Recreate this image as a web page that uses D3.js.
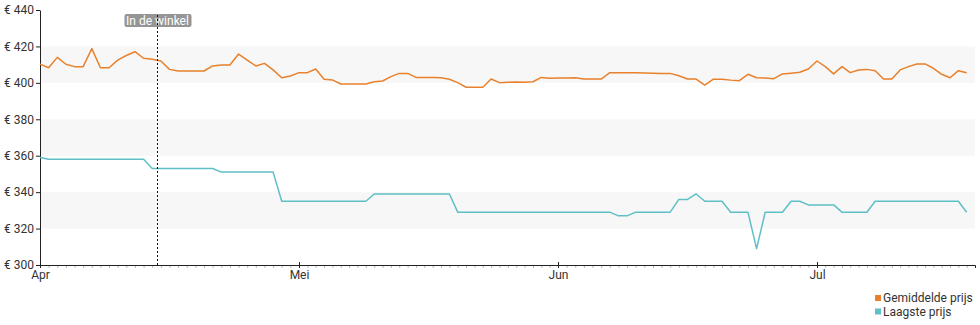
<!DOCTYPE html>
<html>
  <head>
    <meta charset="utf-8">
    <title>Prijsverloop</title>
    <style type="text/css">
        body { margin: 0; background: #fff; }
        svg { display: block; font-family: Roboto, sans-serif; }
        .axis text { font-size: 12px; fill: #333; font-family: Roboto, sans-serif; }
        .axis path, .axis line { stroke: #222; }
        .minor line { stroke: #bbb; }
        .minor path { stroke: none; }
        .legend text { font-size: 12px; fill: #333; }
    </style>
  </head>
  <body>
    <svg width="980" height="325"></svg>

    <script src="https://d3js.org/d3.v7.min.js"></script>
    <script>

    // Average price, one value per day from 1 Apr to 19 Jul
    var avgValues = [
        410.3, 408.3, 414, 410.2, 408.9, 408.9, 418.8, 408.3, 408.3, 412.5,
        415, 417.1, 413.5, 413, 412, 407.4, 406.5, 406.5, 406.5, 406.5,
        409.3, 409.8, 409.8, 415.8, 412.5, 409.3, 410.7, 407.1, 402.8, 403.8,
        // Mei
        405.6, 405.6, 407.6, 402, 401.6, 399.4, 399.4, 399.4, 399.4, 400.6,
        401, 403.4, 405.2, 405.2, 403, 403, 403, 402.8, 402, 400.1,
        397.6, 397.6, 397.6, 402.1, 400.1, 400.3, 400.5, 400.3, 400.6, 403, 402.5,
        // Jun
        402.6, 402.7, 402.8, 402.1, 402.1, 402.1, 405.6, 405.6, 405.5, 405.5,
        405.4, 405.3, 405.2, 405.2, 403.9, 402.1, 402.1, 398.8, 402, 402,
        401.5, 401.2, 404.7, 402.8, 402.6, 402.3, 404.9, 405.3, 405.8, 407.6,
        // Jul
        412, 408.9, 404.9, 408.9, 405.6, 407.1, 407.4, 406.7, 402.1, 402.1,
        407.1, 408.9, 410.4, 410.4, 408, 404.7, 402.8, 406.7, 405.6
    ];
    var avgDates = d3.timeDay.range(new Date(2024, 3, 1), new Date(2024, 6, 20));

    // Lowest price, only where it changes
    var lowDates = [
        "2024-04-01", "2024-04-02", "2024-04-13", "2024-04-14", "2024-04-21", "2024-04-22",
        "2024-04-28", "2024-04-29", "2024-05-09", "2024-05-10", "2024-05-19", "2024-05-20",
        "2024-06-07", "2024-06-08", "2024-06-09", "2024-06-10", "2024-06-14", "2024-06-15",
        "2024-06-16", "2024-06-17", "2024-06-18", "2024-06-20", "2024-06-21", "2024-06-23",
        "2024-06-24", "2024-06-25", "2024-06-27", "2024-06-28", "2024-06-29", "2024-06-30",
        "2024-07-03", "2024-07-04", "2024-07-07", "2024-07-08", "2024-07-18", "2024-07-19"
    ];
    var lowValues = [
        359, 358, 358, 353, 353, 351,
        351, 335, 335, 339, 339, 329,
        329, 327, 327, 329, 329, 336,
        336, 339, 335, 335, 329, 329,
        309, 329, 329, 335, 335, 333,
        333, 329, 329, 335, 335, 329
    ];

    var yTicks = [300, 320, 340, 360, 380, 400, 420, 440];
    var bands = [[400, 420], [360, 380], [320, 340]];
    var monthLabels = { 3: "Apr", 4: "Mei", 5: "Jun", 6: "Jul" };
    var storeDate = new Date(2024, 3, 14, 12);
    var storeLabel = "In de winkel";
    var seriesNames = ["Gemiddelde prijs", "Laagste prijs"];
    var seriesColors = ["#e8802c", "#5fbfc6"];

    var parse = d3.timeParse("%Y-%m-%d");

    var svg = d3.select("svg");

    var x = d3.scaleTime()
        .domain([new Date(2024, 3, 1), new Date(2024, 4, 1), new Date(2024, 5, 1),
                 new Date(2024, 6, 1), new Date(2024, 6, 20)])
        .range([40, 299, 558, 817, 975]);

    var y = d3.scaleLinear()
        .domain([300, 440])
        .range([265, 10]);

    // grey bands
    svg.append("g").selectAll("rect")
        .data(bands)
      .enter().append("rect")
        .attr("x", x.range()[0])
        .attr("width", x.range()[4] - x.range()[0])
        .attr("y", function(d) { return y(d[1]); })
        .attr("height", function(d) { return y(d[0]) - y(d[1]); })
        .attr("fill", "#f7f7f7");

    // daily minor ticks
    svg.append("g")
        .attr("class", "axis minor")
        .attr("transform", "translate(0," + y(300) + ")")
        .call(d3.axisBottom(x).ticks(d3.timeDay.every(1)).tickSize(3).tickFormat(""));

    // x axis
    var xAxis = svg.append("g")
        .attr("class", "axis")
        .attr("transform", "translate(0," + y(300) + ")")
        .call(d3.axisBottom(x)
            .ticks(d3.timeMonth.every(1))
            .tickSizeOuter(0)
            .tickSize(3)
            .tickPadding(2)
            .tickFormat(function(d) { return monthLabels[d.getMonth()]; }));
    xAxis.selectAll(".tick line").attr("y1", -3);

    // y axis
    svg.append("g")
        .attr("class", "axis")
        .attr("transform", "translate(" + x.range()[0] + ",0)")
        .call(d3.axisLeft(y)
            .tickValues(yTicks)
            .tickSize(4)
            .tickSizeOuter(0)
            .tickPadding(2)
            .tickFormat(function(d) { return "€ " + d; }));

    // lines
    var line = d3.line()
        .x(function(d) { return x(d[0]); })
        .y(function(d) { return y(d[1]); });

    var avgData = avgDates.map(function(d, i) { return [d, avgValues[i]]; });
    var lowData = lowDates.map(function(d, i) { return [parse(d), lowValues[i]]; });

    svg.append("path")
        .datum(avgData)
        .attr("fill", "none")
        .attr("stroke", seriesColors[0])
        .attr("stroke-width", 1.5)
        .attr("stroke-linejoin", "round")
        .attr("d", line);

    svg.append("path")
        .datum(lowData)
        .attr("fill", "none")
        .attr("stroke", seriesColors[1])
        .attr("stroke-width", 1.5)
        .attr("stroke-linejoin", "round")
        .attr("d", line);

    // "In de winkel" marker
    var sx = Math.round(x(storeDate)) + 0.5;
    var marker = svg.append("g");
    marker.append("rect")
        .attr("x", sx - 33)
        .attr("y", 14)
        .attr("width", 67)
        .attr("height", 13)
        .attr("rx", 2)
        .attr("fill", "#959595");
    marker.append("text")
        .attr("x", sx)
        .attr("y", 25)
        .attr("text-anchor", "middle")
        .attr("fill", "#fff")
        .style("font-size", "12px")
        .text(storeLabel);
    marker.append("line")
        .attr("x1", sx).attr("x2", sx)
        .attr("y1", 15).attr("y2", y(300))
        .attr("stroke", "#111")
        .attr("stroke-dasharray", "2,2");

    // legend
    var legend = svg.append("g")
        .attr("class", "legend")
        .attr("transform", "translate(875,292)");
    var item = legend.selectAll("g")
        .data(seriesNames)
      .enter().append("g")
        .attr("transform", function(d, i) { return "translate(0," + (i * 13.5) + ")"; });
    item.append("rect")
        .attr("y", 3)
        .attr("width", 6)
        .attr("height", 6)
        .attr("fill", function(d, i) { return seriesColors[i]; });
    item.append("text")
        .attr("x", 8)
        .attr("y", 6)
        .attr("dy", "0.35em")
        .text(function(d) { return d; });

    </script>
  </body>
</html>
